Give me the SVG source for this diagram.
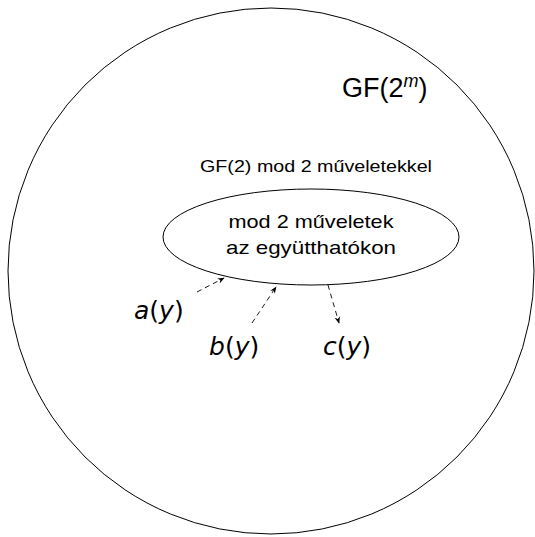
<svg xmlns="http://www.w3.org/2000/svg" width="535" height="537" viewBox="0 0 535 537">
<defs>
<style>
.shape{fill:none;stroke:#000;stroke-width:1}
.conn{fill:none;stroke:#000;stroke-width:0.9;stroke-dasharray:5 4}
.t{font-family:"Liberation Sans",Arial,sans-serif;fill:#000}
.m{font-family:"DejaVu Sans","Liberation Sans",sans-serif;fill:#000}
</style>
<marker id="ah" viewBox="0 0 10 10" refX="9" refY="5" markerWidth="7" markerHeight="7" orient="auto" markerUnits="userSpaceOnUse">
<path d="M0,1 L10,5 L0,9 L3,5 Z" fill="#000"/>
</marker>
</defs>
<rect width="535" height="537" fill="#fff"/>
<g id="gf2m">
<circle class="shape" cx="271" cy="271" r="263"/>
<text class="t" x="342" y="97" font-size="27">GF(2<tspan font-size="18" dy="-10" font-style="italic">m</tspan><tspan dy="10">)</tspan></text>
</g>
<g id="gf2">
<text class="t" x="316" y="172" font-size="16" text-anchor="middle" textLength="232" lengthAdjust="spacingAndGlyphs">GF(2) mod 2 műveletekkel</text>
<ellipse class="shape" cx="311" cy="237" rx="148" ry="48"/>
<text class="t" x="311" y="228" font-size="19" text-anchor="middle" textLength="165" lengthAdjust="spacingAndGlyphs">mod 2 műveletek</text>
<text class="t" x="311" y="254" font-size="19" text-anchor="middle" textLength="170" lengthAdjust="spacingAndGlyphs">az együtthatókon</text>
</g>
<g id="a">
<text class="m" x="134" y="319" font-size="25"><tspan font-style="italic">a</tspan>(<tspan font-style="italic">y</tspan>)</text>
</g>
<g id="b">
<text class="m" x="209" y="355" font-size="25"><tspan font-style="italic">b</tspan>(<tspan font-style="italic">y</tspan>)</text>
</g>
<g id="c">
<text class="m" x="323" y="355" font-size="25"><tspan font-style="italic">c</tspan>(<tspan font-style="italic">y</tspan>)</text>
</g>
<g id="connectors">
<line class="conn" x1="197" y1="292" x2="224" y2="278" marker-end="url(#ah)"/>
<line class="conn" x1="252" y1="323" x2="276" y2="287" marker-end="url(#ah)"/>
<line class="conn" x1="328" y1="285" x2="339" y2="323" marker-end="url(#ah)"/>
</g>
</svg>
